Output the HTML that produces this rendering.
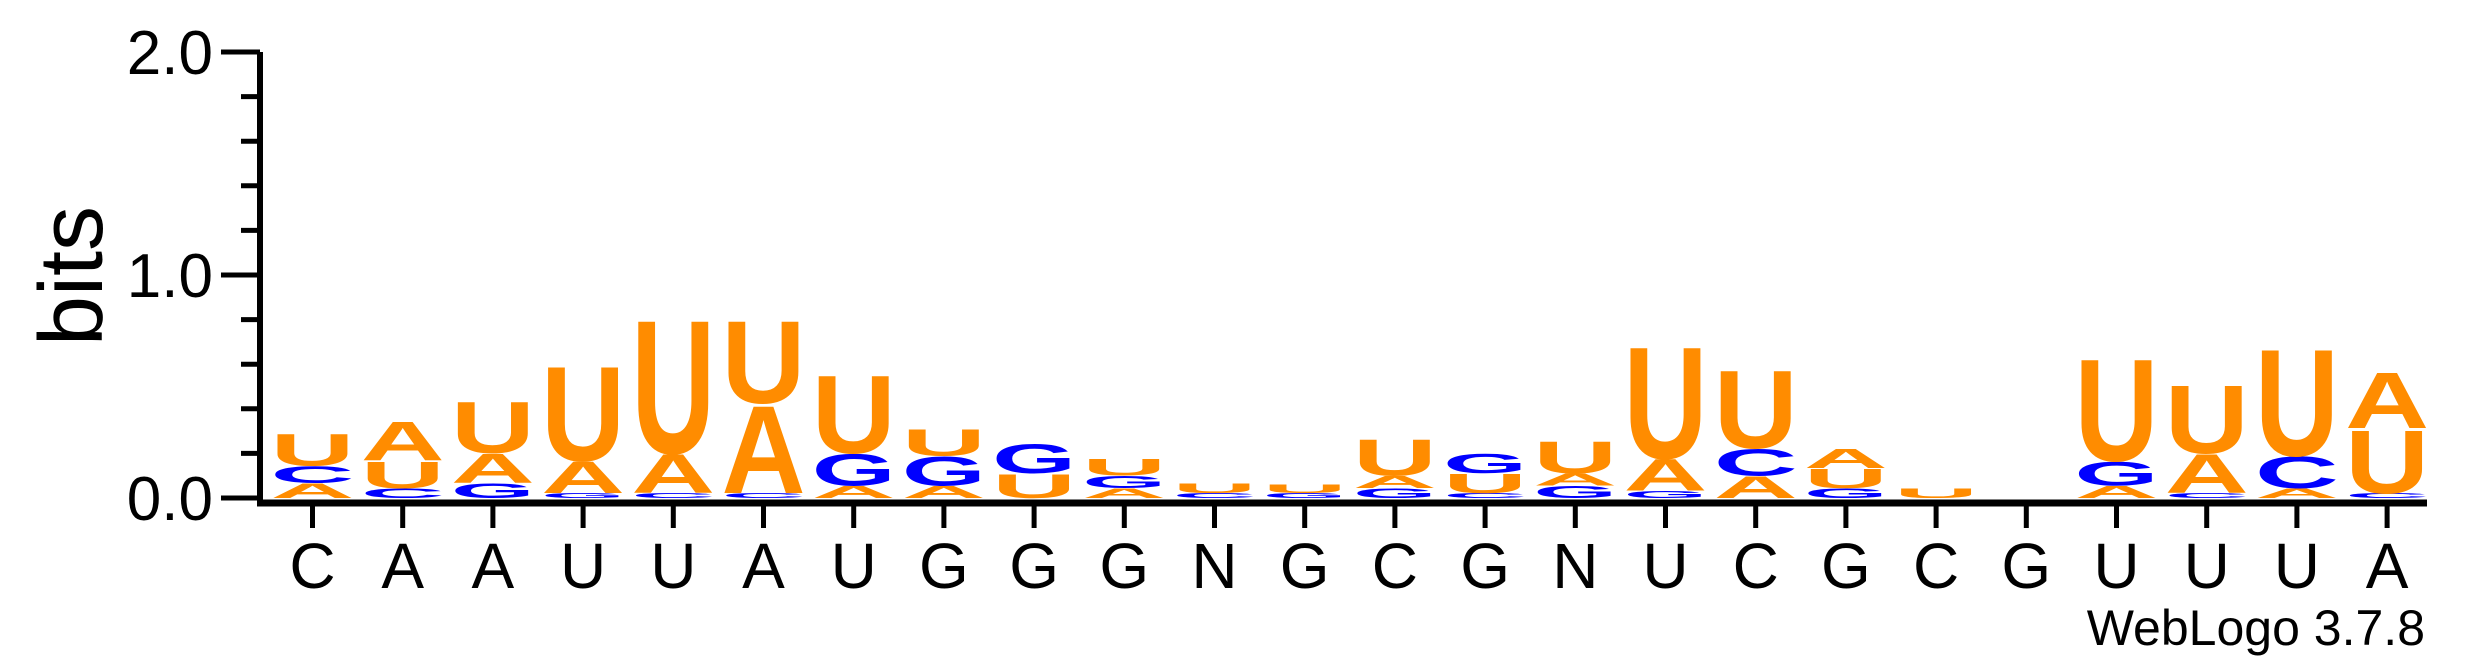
<!DOCTYPE html>
<html><head><meta charset="utf-8"><style>
html,body{margin:0;padding:0;background:#fff;width:2475px;height:667px;overflow:hidden}
svg{display:block}
</style></head><body>
<svg id="chart" width="2475" height="667" xmlns="http://www.w3.org/2000/svg" font-family="Liberation Sans, sans-serif">
<g id="axes"></g><g id="stacks"></g>
<text x="0" y="0" transform="translate(102,276) rotate(-90)" text-anchor="middle" font-size="90">bits</text>
<text x="2425" y="645" text-anchor="end" font-size="50">WebLogo 3.7.8</text>
</svg>
<script>
const positions = ["C","A","A","U","U","A","U","G","G","G","N","G","C","G","N","U","C","G","C","G","U","U","U","A"];
// stacks bottom-to-top: [letter, bits]
const stacks = [
 [["A",0.06],["C",0.07],["U",0.13]],
 [["C",0.04],["U",0.11],["A",0.16]],
 [["G",0.06],["A",0.12],["U",0.21]],
 [["G",0.02],["A",0.13],["U",0.39]],
 [["C",0.02],["A",0.16],["U",0.55]],
 [["C",0.02],["A",0.36],["U",0.34]],
 [["A",0.05],["G",0.13],["U",0.32]],
 [["A",0.05],["G",0.12],["U",0.11]],
 [["U",0.10],["G",0.12]],
 [["A",0.04],["G",0.05],["U",0.07]],
 [["C",0.02],["U",0.04]],
 [["G",0.02],["U",0.035]],
 [["G",0.04],["A",0.05],["U",0.15]],
 [["C",0.02],["U",0.08],["G",0.08]],
 [["G",0.05],["A",0.05],["U",0.13]],
 [["G",0.03],["A",0.13],["U",0.46]],
 [["A",0.09],["C",0.11],["U",0.32]],
 [["G",0.04],["U",0.08],["A",0.08]],
 [["U",0.04]],
 [],
 [["A",0.05],["G",0.10],["U",0.42]],
 [["C",0.02],["A",0.16],["U",0.28]],
 [["A",0.04],["C",0.13],["U",0.44]],
 [["C",0.02],["U",0.26],["A",0.23]]
];
const yTicks = [0,0.2,0.4,0.6,0.8,1.0,1.2,1.4,1.6,1.8,2.0];
const yLabels = {"0":"0.0","1":"1.0","2":"2.0"};

const NS="http://www.w3.org/2000/svg";
const x0=312.5, dx=90.2, yBase=498, pxPerBit=223, axisX=260, colW=84;
const xs = i => x0 + i*dx;
const ys = v => yBase - v*pxPerBit;
const color = l => (l==="C"||l==="G") ? "#0000FF" : "#FF8C00";
const axes=document.getElementById('axes'), st=document.getElementById('stacks');
function mk(tag,attrs,parent){const e=document.createElementNS(NS,tag);for(const k in attrs)e.setAttribute(k,attrs[k]);parent.appendChild(e);return e;}

const yl=mk('line',{x1:axisX,y1:ys(2),x2:axisX,y2:yBase+5,stroke:'#000','stroke-width':6},axes);


const xl=mk('line',{x1:axisX-3,y1:yBase+5,x2:2427,y2:yBase+5,stroke:'#000','stroke-width':7},axes);


yTicks.forEach(v=>{
  const major = Math.abs(v-Math.round(v))<1e-6;
  const t=mk('line',{x1:major?221:241,y1:ys(v),x2:axisX,y2:ys(v),stroke:'#000','stroke-width':5},axes);
  
  
  if(major){
    const tx=mk('text',{x:213,y:ys(v)+22,'text-anchor':'end','font-size':62},axes);
    tx.textContent=yLabels[String(Math.round(v))];
    
    
  }
});
positions.forEach((p,i)=>{
  const t=mk('line',{x1:xs(i),y1:yBase+5,x2:xs(i),y2:yBase+30,stroke:'#000','stroke-width':5},axes);
  
  
  const tx=mk('text',{x:xs(i),y:588,'text-anchor':'middle','font-size':64},axes);
  tx.textContent=p;
  
  
});
stacks.forEach((s,i)=>{
  let acc=0;
  s.forEach(([l,b])=>{
    const bottom=ys(acc), h=b*pxPerBit*1.12; acc+=b*1.12;
    if(h<0.5) return;
    const g=mk('g',{transform:`translate(${xs(i)-colW/2},${bottom}) scale(1,${h/72})`},st);
    const t=mk('text',{x:0,y:0,'font-size':100,'font-weight':'bold',fill:color(l),textLength:colW,lengthAdjust:'spacingAndGlyphs'},g);
    t.textContent=l;
    
    
  });
});
</script>
</body></html>
